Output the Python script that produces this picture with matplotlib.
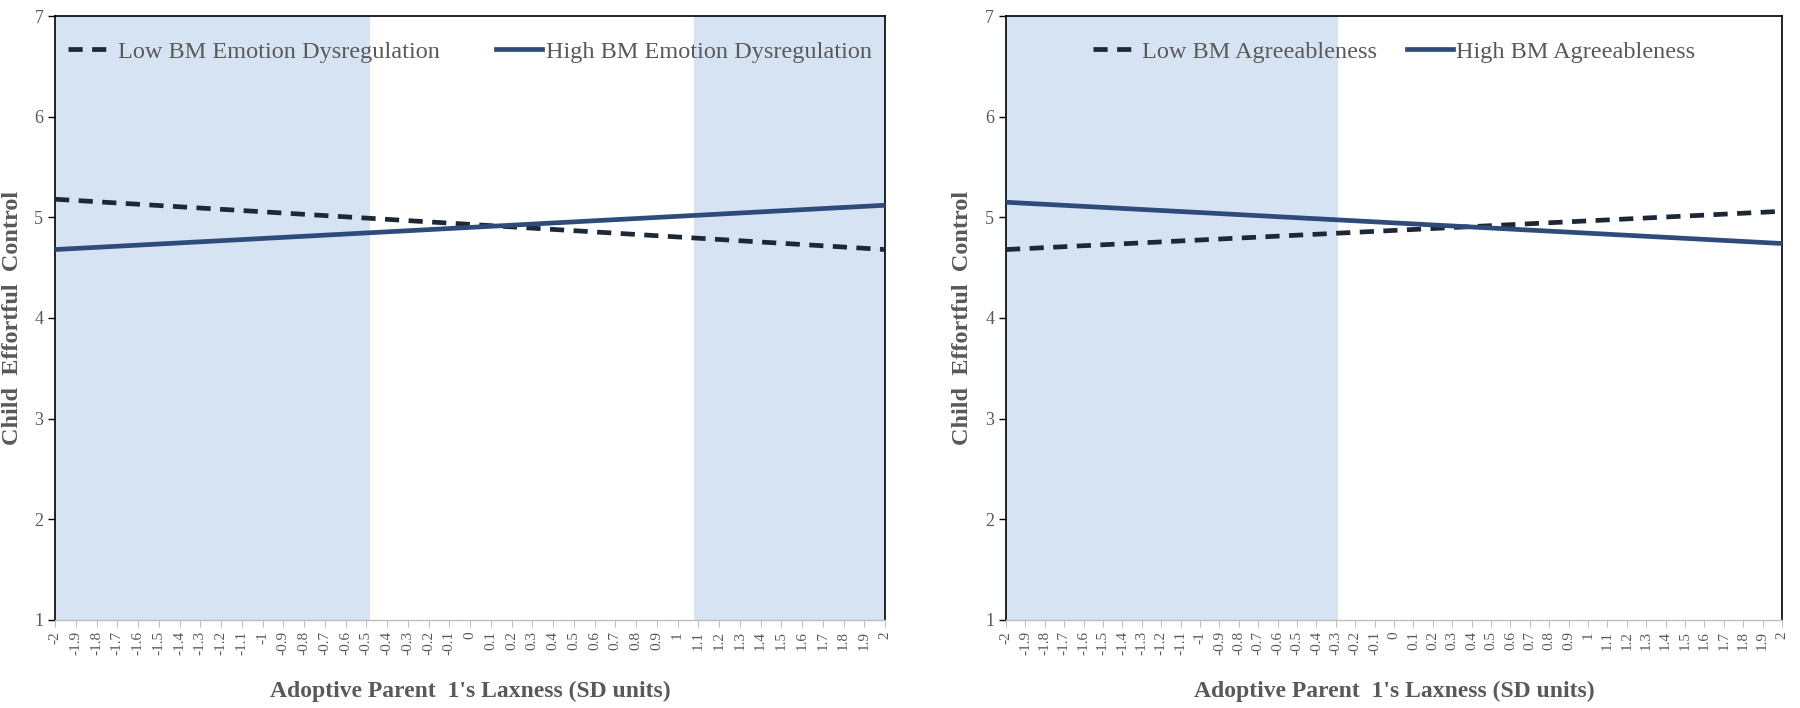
"""Two-panel region-of-significance plot: child effortful control vs adoptive parent laxness."""
import matplotlib
matplotlib.use("Agg")
import matplotlib.pyplot as plt

plt.rcParams["font.family"] = ["Liberation Serif", "DejaVu Serif"]

# x categories -2 .. 2 in steps of 0.1 (Excel category axis)
X_TICKS = [-2, -1.9, -1.8, -1.7, -1.6, -1.5, -1.4, -1.3, -1.2, -1.1, -1,
           -0.9, -0.8, -0.7, -0.6, -0.5, -0.4, -0.3, -0.2, -0.1, 0,
           0.1, 0.2, 0.3, 0.4, 0.5, 0.6, 0.7, 0.8, 0.9, 1,
           1.1, 1.2, 1.3, 1.4, 1.5, 1.6, 1.7, 1.8, 1.9, 2]
X_LABELS = ["-2", "-1.9", "-1.8", "-1.7", "-1.6", "-1.5", "-1.4", "-1.3", "-1.2", "-1.1", "-1",
            "-0.9", "-0.8", "-0.7", "-0.6", "-0.5", "-0.4", "-0.3", "-0.2", "-0.1", "0",
            "0.1", "0.2", "0.3", "0.4", "0.5", "0.6", "0.7", "0.8", "0.9", "1",
            "1.1", "1.2", "1.3", "1.4", "1.5", "1.6", "1.7", "1.8", "1.9", "2"]
Y_TICKS = [1, 2, 3, 4, 5, 6, 7]

# simple slopes (straight lines, read at the ends of the axis)
LINE_X = [-2, 2]
ED_LOW = [5.18, 4.68]
ED_HIGH = [4.68, 5.12]
AG_LOW = [4.68, 5.06]
AG_HIGH = [5.15, 4.74]

# shaded regions of significance
ED_REGIONS = [(-2, -0.48), (1.08, 2)]
AG_REGIONS = [(-2, -0.29)]

GREY = "#595959"
SHADE = "#d6e3f3"
DASH_C = "#1d2735"
SOLID_C = "#2f4b7c"

fig = plt.figure(figsize=(18, 7.08), dpi=100)
ax1 = fig.add_axes([0.0306, 0.1243, 0.4611, 0.8531])
ax2 = fig.add_axes([0.5589, 0.1243, 0.4311, 0.8531])


def panel(ax, low, high, regions, low_lab, high_lab, colsp, ylab_x):
    for a, b in regions:
        ax.axvspan(a, b, color=SHADE, lw=0, zorder=0)
    ax.plot(LINE_X, low, color=DASH_C, lw=3.4, ls=(0, (3.0, 2.0)), label=low_lab, zorder=3)
    ax.plot(LINE_X, high, color=SOLID_C, lw=3.4, label=high_lab, zorder=3)
    ax.set_xlim(-2, 2)
    ax.set_ylim(1, 7)
    ax.set_yticks(Y_TICKS)
    ax.set_xticks(X_TICKS)
    ax.set_xticklabels(X_LABELS, rotation=90, fontsize=11, color=GREY)
    ax.tick_params(axis="y", labelsize=13, labelcolor=GREY, length=5, width=1, color="black")
    ax.tick_params(axis="x", length=5, width=0.8, color="#bfbfbf", pad=3)
    for s in ("left", "top", "right"):
        ax.spines[s].set_color("black")
        ax.spines[s].set_linewidth(1.2)
    ax.spines["bottom"].set_color("#bfbfbf")
    ax.spines["bottom"].set_linewidth(1)
    ax.set_xlabel("Adoptive Parent  1's Laxness (SD units)", fontsize=17,
                  fontweight="bold", color=GREY)
    ax.xaxis.set_label_coords(0.5, -0.100)
    ax.set_ylabel("Child  Effortful  Control", fontsize=17.5, fontweight="bold", color=GREY)
    ax.yaxis.set_label_coords(ylab_x, 0.5)
    leg = ax.legend(loc="upper center", bbox_to_anchor=(0.5, 0.995), ncol=2, frameon=False,
                    fontsize=17.5, handlelength=1.9, handletextpad=0.15, columnspacing=colsp)
    for t in leg.get_texts():
        t.set_color(GREY)


panel(ax1, ED_LOW, ED_HIGH, ED_REGIONS,
      "Low BM Emotion Dysregulation", "High BM Emotion Dysregulation", 2.3, -0.039)
panel(ax2, AG_LOW, AG_HIGH, AG_REGIONS,
      "Low BM Agreeableness", "High BM Agreeableness", 1.2, -0.043)

fig.savefig("out.png", dpi=100)
